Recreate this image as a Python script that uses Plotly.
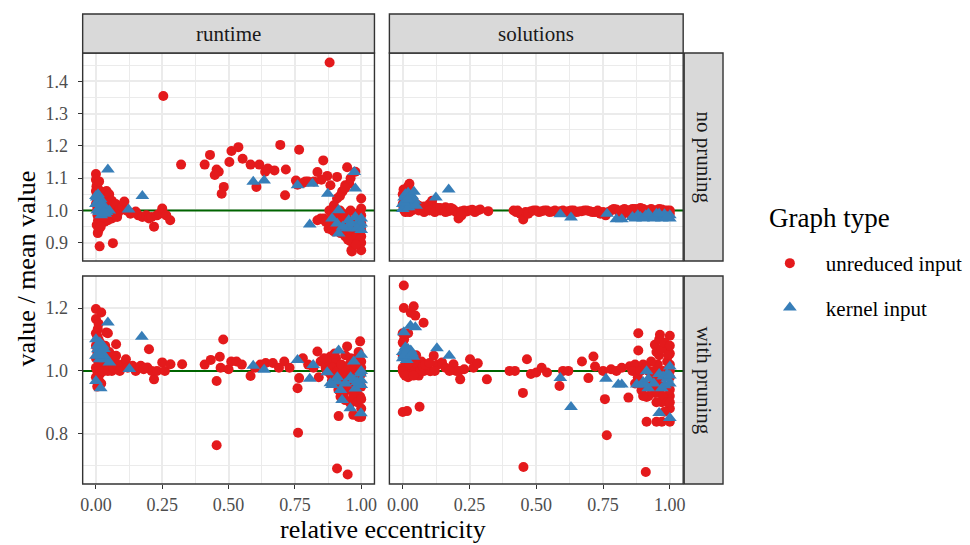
import plotly.graph_objects as go

# ---------------------------------------------------------------------------
# Data: (relative eccentricity, value / mean value) per facet and graph type
# ---------------------------------------------------------------------------
runtime_noprune_unreduced = [
    (0.0, 1.113), (0.0, 1.095), (0.002, 1.075), (0.0, 1.06), (0.003, 1.045), (0.005, 1.03),
    (0.0, 1.02), (0.004, 1.0), (0.006, 0.985), (0.008, 0.97), (0.01, 1.065), (0.012, 0.955),
    (0.015, 1.05), (0.018, 0.98), (0.02, 1.04), (0.022, 1.0), (0.025, 0.975), (0.026, 1.057),
    (0.028, 1.045), (0.03, 1.02), (0.033, 0.965), (0.035, 1.01), (0.039, 1.037), (0.04, 0.99),
    (0.045, 1.03), (0.05, 1.015), (0.055, 0.985), (0.06, 0.975), (0.065, 1.0), (0.07, 1.01),
    (0.075, 0.99), (0.08, 1.0), (0.014, 0.889), (0.064, 0.899), (0.007, 0.93), (0.003, 0.955),
    (0.01, 0.94), (0.02, 0.96), (0.045, 0.97), (0.05, 0.99),
    (0.005, 1.08), (0.008, 1.06), (0.012, 1.04), (0.016, 1.02), (0.02, 1.0), (0.024, 0.99),
    (0.03, 0.98), (0.035, 1.04), (0.04, 1.06), (0.045, 1.045), (0.05, 1.05), (0.055, 1.0),
    (0.06, 1.03), (0.065, 1.02), (0.07, 0.99), (0.075, 1.02), (0.08, 0.98), (0.085, 0.995),
    (0.012, 1.09), (0.018, 0.95),
    (0.09, 1.005), (0.1, 1.01), (0.107, 1.028), (0.115, 1.0), (0.13, 0.99), (0.15, 0.997),
    (0.16, 0.985), (0.175, 0.98), (0.19, 0.985), (0.2, 0.975), (0.21, 0.98), (0.219, 0.95),
    (0.23, 0.985), (0.24, 0.99), (0.25, 1.006), (0.265, 0.985), (0.28, 0.97), (0.254, 1.354),
    (0.321, 1.142),
    (0.41, 1.142), (0.43, 1.172), (0.455, 1.127), (0.463, 1.12), (0.448, 1.11), (0.482, 1.073),
    (0.474, 1.052), (0.503, 1.15), (0.511, 1.184), (0.537, 1.196), (0.553, 1.16), (0.583, 1.142),
    (0.605, 1.073), (0.616, 1.142), (0.638, 1.12), (0.648, 1.13), (0.673, 1.124), (0.695, 1.203),
    (0.716, 1.127), (0.713, 1.047), (0.754, 1.093), (0.766, 1.188), (0.78, 1.085), (0.8, 1.09),
    (0.822, 1.09), (0.835, 1.119), (0.857, 1.155), (0.872, 1.107), (0.881, 1.458), (0.884, 1.078),
    (0.909, 1.104), (0.928, 1.058), (0.94, 1.078), (0.947, 1.134), (0.978, 1.12), (0.909, 1.037),
    (0.897, 1.016), (1.0, 1.037), (1.0, 1.006),
    (0.835, 0.97), (0.847, 0.975), (0.86, 0.975), (0.866, 0.965), (0.877, 0.944), (0.884, 0.96),
    (0.89, 0.94), (0.897, 0.935), (0.903, 0.95), (0.91, 0.966), (0.922, 0.93), (0.934, 0.955),
    (0.94, 0.92), (0.947, 0.975), (0.959, 0.905), (0.963, 0.877), (0.965, 0.873), (0.97, 0.93),
    (0.985, 0.935), (0.99, 0.9), (1.0, 0.877), (1.0, 0.9), (1.0, 0.92), (1.0, 0.96), (0.99, 0.97),
    (0.98, 0.99), (0.96, 1.0), (0.92, 1.0), (0.93, 0.99), (0.955, 1.083), (0.96, 1.1),
    (0.93, 1.06), (0.92, 1.045), (0.94, 1.07), (0.85, 1.095), (0.79, 1.09), (0.76, 1.08),
    (0.88, 1.0), (0.89, 0.99), (0.9, 0.975), (0.905, 1.0), (0.915, 0.985), (0.925, 0.96),
    (0.93, 0.975), (0.945, 0.95), (0.95, 0.93), (0.955, 0.96), (0.96, 0.94), (0.97, 0.96),
    (0.975, 0.945), (0.98, 0.92), (0.985, 0.96), (0.99, 0.94), (0.995, 0.91), (1.0, 0.94),
    (1.0, 0.985), (0.98, 0.895), (0.95, 0.91), (0.91, 0.95),
]

runtime_noprune_kernel = [
    (0.0, 1.02), (0.003, 1.04), (0.005, 1.0), (0.008, 1.05), (0.01, 1.03), (0.012, 0.995),
    (0.015, 1.01), (0.018, 1.035), (0.02, 0.985), (0.025, 1.0), (0.03, 1.015), (0.035, 0.99),
    (0.04, 0.995), (0.045, 1.127), (0.05, 1.0), (0.123, 1.003), (0.175, 1.045), (0.593, 1.089),
    (0.634, 1.093), (0.76, 1.078), (0.816, 1.083), (0.806, 0.957), (0.874, 1.052), (0.89, 0.975),
    (0.909, 0.96), (0.915, 1.001), (0.915, 0.929), (0.947, 0.945), (0.953, 0.97), (0.959, 0.945),
    (0.974, 1.119), (0.978, 1.068), (0.978, 0.98), (0.99, 0.965), (1.0, 0.975), (1.0, 0.96),
    (0.995, 0.955), (0.0, 1.045), (0.005, 1.025), (0.01, 1.005), (0.02, 1.02), (0.03, 0.995),
    (0.96, 0.96), (0.985, 0.945), (1.0, 0.94), (0.93, 0.95),
]

solutions_noprune_unreduced = [
    (0.0, 1.05), (0.003, 1.065), (0.005, 1.03), (0.008, 1.045), (0.01, 1.02), (0.012, 1.06),
    (0.015, 1.005), (0.02, 1.075), (0.025, 1.083), (0.028, 1.06), (0.0, 1.02), (0.003, 1.01),
    (0.006, 1.0), (0.01, 0.995), (0.015, 1.04), (0.02, 1.005), (0.025, 0.995), (0.03, 1.015),
    (0.035, 1.0), (0.04, 1.03), (0.045, 1.01), (0.05, 1.02), (0.055, 1.005), (0.06, 1.015),
    (0.07, 1.01), (0.08, 1.012), (0.09, 1.005), (0.1, 1.02), (0.11, 1.03), (0.12, 1.01),
    (0.13, 1.008), (0.14, 1.0), (0.15, 1.005), (0.16, 1.01), (0.17, 0.998), (0.18, 1.0),
    (0.19, 1.003), (0.2, 0.995), (0.209, 0.975), (0.22, 0.998), (0.23, 1.0), (0.24, 0.997),
    (0.25, 1.0), (0.26, 1.002), (0.28, 1.0), (0.32, 0.998), (0.415, 1.0), (0.425, 0.995),
    (0.44, 0.99), (0.451, 0.972), (0.46, 0.995), (0.48, 0.998), (0.5, 1.0), (0.52, 0.998),
    (0.54, 1.0), (0.56, 0.997), (0.58, 0.995), (0.6, 1.0), (0.62, 0.998), (0.64, 1.0),
    (0.66, 0.997), (0.68, 1.0), (0.7, 0.998), (0.72, 0.995), (0.74, 0.99), (0.76, 0.985),
    (0.78, 1.0), (0.8, 1.003), (0.82, 1.0), (0.84, 0.995), (0.86, 1.005), (0.88, 1.0),
    (0.9, 1.005), (0.92, 1.0), (0.94, 0.995), (0.96, 1.005), (0.98, 1.0), (1.0, 1.0),
    (1.0, 0.99), (0.99, 0.985), (0.97, 0.99), (0.89, 0.99), (0.85, 0.99), (0.82, 0.985),
    (0.43, 1.0), (0.47, 0.99), (0.49, 1.0), (0.51, 0.995), (0.53, 1.0), (0.55, 0.995),
    (0.57, 1.0), (0.59, 0.998), (0.61, 0.995), (0.63, 1.0), (0.65, 0.995), (0.67, 0.998),
    (0.69, 1.0), (0.71, 0.995), (0.73, 1.0), (0.75, 0.995), (0.77, 0.995), (0.79, 1.005),
    (0.81, 0.995), (0.83, 1.005), (0.85, 1.0), (0.87, 1.005), (0.89, 1.008), (0.91, 0.998),
    (0.93, 1.005), (0.95, 1.0), (0.97, 1.003), (0.99, 1.0), (0.06, 1.0), (0.08, 0.995),
    (0.1, 1.0), (0.12, 0.995), (0.14, 1.008), (0.16, 0.995), (0.18, 1.008), (0.22, 0.985),
    (0.27, 0.995), (0.29, 1.003),
]

solutions_noprune_kernel = [
    (0.0, 1.02), (0.0, 1.005), (0.005, 1.04), (0.01, 1.05), (0.012, 1.01), (0.015, 1.03),
    (0.02, 1.055), (0.022, 1.01), (0.025, 1.04), (0.03, 1.02), (0.035, 1.045), (0.042, 1.058),
    (0.045, 1.03), (0.05, 1.015), (0.124, 1.04), (0.172, 1.065), (0.59, 0.988), (0.63, 0.978),
    (0.765, 0.99), (0.8, 0.973), (0.82, 0.973), (0.87, 0.975), (0.88, 0.985), (0.89, 0.98),
    (0.91, 0.985), (0.93, 0.978), (0.95, 0.99), (0.96, 0.98), (0.97, 0.975), (0.98, 0.988),
    (1.0, 0.985), (1.0, 0.975), (0.9, 0.975), (0.92, 0.99), (0.94, 0.975), (0.96, 0.99),
    (0.99, 0.98), (0.86, 0.98), (0.005, 1.025), (0.018, 1.035),
]

runtime_prune_unreduced = [
    (0.0, 1.197), (0.02, 1.186), (0.0, 1.165), (0.007, 1.133), (0.039, 1.122), (0.045, 1.12),
    (0.0, 1.12), (0.01, 1.1), (0.015, 1.09), (0.0, 1.08), (0.005, 1.06), (0.025, 1.07),
    (0.03, 1.05), (0.0, 1.04), (0.01, 1.03), (0.02, 1.02), (0.0, 1.01), (0.005, 1.0),
    (0.015, 0.99), (0.0, 0.98), (0.01, 0.97), (0.02, 0.96), (0.03, 1.0), (0.04, 1.01),
    (0.05, 1.03), (0.064, 1.027), (0.076, 1.048), (0.076, 1.085), (0.088, 1.016), (0.06, 1.0),
    (0.07, 1.005), (0.1, 1.02), (0.113, 1.037), (0.138, 1.016), (0.169, 1.016), (0.194, 1.011),
    (0.2, 1.069), (0.219, 0.973), (0.21, 1.0), (0.23, 1.0), (0.25, 1.027), (0.26, 1.0),
    (0.281, 1.021), (0.325, 1.021),
    (0.005, 1.11), (0.01, 1.15), (0.015, 1.06), (0.02, 1.04), (0.025, 1.0), (0.03, 1.03),
    (0.035, 1.08), (0.04, 1.04), (0.045, 1.0), (0.05, 1.06), (0.055, 1.02), (0.06, 1.045),
    (0.065, 1.01), (0.07, 1.035), (0.08, 1.02), (0.09, 1.0), (0.12, 1.01), (0.15, 1.0),
    (0.18, 1.005), (0.005, 0.95),
    (0.41, 1.02), (0.433, 1.035), (0.455, 0.968), (0.455, 0.763), (0.467, 1.045), (0.48, 1.1),
    (0.47, 1.01), (0.5, 1.005), (0.51, 1.03), (0.53, 1.03), (0.55, 1.02), (0.583, 0.984),
    (0.6, 1.01), (0.62, 1.02), (0.64, 1.025), (0.667, 1.025), (0.69, 1.01), (0.71, 1.03),
    (0.73, 1.01),
    (0.76, 0.945), (0.766, 0.977), (0.762, 0.803), (0.78, 1.04), (0.8, 1.02), (0.82, 1.01),
    (0.835, 1.062), (0.84, 0.98), (0.847, 1.03), (0.866, 1.01), (0.884, 1.046), (0.884, 0.99),
    (0.903, 1.025), (0.903, 0.96), (0.909, 0.689), (0.914, 1.014), (0.914, 0.94), (0.915, 0.856),
    (0.922, 1.003), (0.922, 0.918), (0.928, 0.98), (0.94, 0.993), (0.94, 0.907), (0.947, 1.078),
    (0.949, 0.67), (0.959, 0.982), (0.959, 0.897), (0.97, 1.0), (0.978, 0.961), (0.978, 0.929),
    (0.984, 0.939), (0.99, 0.853), (0.996, 1.094), (0.996, 0.918), (1.0, 0.853), (1.0, 0.95),
    (1.0, 1.03), (1.0, 0.88), (0.97, 0.86), (0.99, 1.06), (0.93, 0.95), (0.89, 0.97),
    (0.87, 1.02), (0.96, 1.04),
    (0.87, 1.0), (0.88, 1.03), (0.89, 1.01), (0.9, 0.99), (0.905, 1.04), (0.91, 1.0),
    (0.92, 0.96), (0.925, 1.02), (0.93, 0.99), (0.935, 0.93), (0.945, 1.0), (0.95, 0.96),
    (0.955, 1.02), (0.96, 0.94), (0.965, 0.99), (0.97, 0.92), (0.975, 1.01), (0.98, 0.98),
    (0.985, 0.9), (0.99, 0.97), (0.995, 1.0), (1.0, 0.99), (1.0, 0.91), (1.0, 1.01),
    (0.98, 1.04), (0.94, 1.05), (0.9, 1.055), (0.86, 1.04),
]

runtime_prune_kernel = [
    (0.0, 1.101), (0.007, 1.069), (0.026, 1.08), (0.039, 1.037), (0.014, 1.037), (0.0, 1.048),
    (0.051, 1.027), (0.0, 0.968), (0.018, 0.945), (0.045, 1.154), (0.02, 1.06), (0.03, 1.05),
    (0.01, 1.05), (0.126, 1.006), (0.173, 1.109), (0.593, 1.016), (0.634, 1.004), (0.76, 1.035),
    (0.806, 0.975), (0.819, 1.019), (0.872, 0.996), (0.884, 0.961), (0.89, 0.955), (0.909, 0.966),
    (0.915, 1.065), (0.922, 0.939), (0.928, 0.907), (0.959, 0.881), (0.972, 1.03), (0.972, 0.971),
    (0.978, 0.944), (0.996, 0.992), (0.999, 0.865), (1.0, 1.051), (1.0, 0.955), (1.0, 0.97),
    (0.005, 1.08), (0.015, 1.09), (0.03, 1.07), (0.94, 0.96), (0.96, 0.98), (0.985, 0.965),
    (1.0, 1.0), (0.91, 0.98),
]

solutions_prune_unreduced = [
    (0.004, 1.272), (0.004, 1.2), (0.041, 1.206), (0.03, 1.185), (0.047, 1.176), (0.078, 1.153),
    (0.0, 1.12), (0.02, 1.12), (0.0, 0.869), (0.016, 0.872), (0.063, 0.886), (0.0, 1.09),
    (0.01, 1.07), (0.0, 1.05), (0.015, 1.03), (0.0, 1.01), (0.005, 0.99), (0.02, 0.98),
    (0.03, 1.0), (0.04, 1.02), (0.05, 1.01), (0.06, 0.985), (0.07, 1.03), (0.08, 1.0),
    (0.09, 1.01), (0.103, 0.999), (0.116, 1.048), (0.13, 1.02), (0.147, 1.027), (0.16, 1.01),
    (0.19, 1.021), (0.2, 1.0), (0.215, 0.973), (0.23, 1.005), (0.252, 1.037), (0.265, 1.01),
    (0.281, 1.024), (0.315, 0.973),
    (0.005, 1.1), (0.01, 1.04), (0.015, 1.0), (0.02, 1.06), (0.025, 1.02), (0.03, 0.99),
    (0.035, 1.04), (0.045, 1.0), (0.05, 1.05), (0.055, 1.02), (0.065, 1.0), (0.075, 1.015),
    (0.085, 1.02), (0.0, 1.0), (0.01, 0.985), (0.04, 0.985), (0.1, 1.025), (0.12, 1.0),
    (0.175, 1.0), (0.21, 1.0),
    (0.4, 1.0), (0.42, 1.0), (0.45, 0.93), (0.452, 0.694), (0.465, 1.037), (0.48, 0.99),
    (0.5, 0.995), (0.52, 1.01), (0.54, 0.995), (0.587, 0.952), (0.6, 1.0), (0.62, 1.0),
    (0.671, 1.03), (0.695, 0.977), (0.714, 1.046), (0.72, 1.014),
    (0.75, 1.0), (0.757, 0.91), (0.764, 0.795), (0.78, 1.005), (0.8, 1.0), (0.82, 1.01),
    (0.845, 0.915), (0.85, 1.015), (0.87, 1.02), (0.882, 1.12), (0.882, 1.065), (0.894, 0.938),
    (0.9, 1.02), (0.91, 0.678), (0.913, 0.838), (0.913, 0.917), (0.92, 1.0), (0.932, 0.949),
    (0.94, 0.97), (0.944, 1.083), (0.95, 0.838), (0.955, 1.02), (0.96, 0.93), (0.963, 1.115),
    (0.97, 0.838), (0.97, 0.9), (0.981, 1.078), (0.985, 0.95), (0.99, 1.03), (1.0, 1.112),
    (1.0, 1.055), (1.0, 0.838), (1.0, 0.88), (1.0, 0.92), (1.0, 0.98), (0.975, 1.0),
    (0.96, 1.05), (0.93, 1.03),
    (0.86, 1.0), (0.88, 0.98), (0.89, 1.0), (0.9, 0.96), (0.91, 1.01), (0.92, 0.95),
    (0.93, 0.98), (0.94, 1.0), (0.945, 0.93), (0.95, 1.06), (0.955, 0.97), (0.96, 1.1),
    (0.965, 0.95), (0.97, 1.07), (0.975, 0.92), (0.98, 1.09), (0.985, 0.99), (0.99, 0.9),
    (0.995, 1.05), (1.0, 0.9), (1.0, 0.94), (1.0, 1.0), (1.0, 1.02), (1.0, 1.08),
    (0.98, 0.87), (0.95, 0.9), (0.92, 0.92), (0.9, 0.92), (0.87, 0.96),
]

solutions_prune_kernel = [
    (0.004, 1.123), (0.029, 1.144), (0.047, 1.139), (0.0, 1.06), (0.01, 1.075), (0.02, 1.05),
    (0.03, 1.065), (0.0, 1.04), (0.015, 1.035), (0.04, 1.045), (0.128, 1.072), (0.174, 1.048),
    (0.59, 0.977), (0.63, 0.885), (0.761, 0.975), (0.807, 0.957), (0.82, 0.957), (0.876, 0.957),
    (0.894, 0.957), (0.913, 0.999), (0.919, 0.945), (0.96, 0.866), (0.975, 0.982), (0.981, 0.954),
    (1.0, 0.85), (1.0, 1.014), (1.0, 0.96), (0.99, 0.975), (0.9, 0.965), (0.92, 0.975),
    (0.94, 0.96), (0.96, 0.99), (0.97, 0.945), (0.99, 0.99), (1.0, 0.985), (0.005, 1.05),
    (0.02, 1.07), (0.035, 1.055),
]

col_labels = ["runtime", "solutions"]
row_labels = ["no pruning", "with pruning"]
x_ticks = [0.0, 0.25, 0.5, 0.75, 1.0]
reference_level = 1.0

panels = {
    (0, 0): (runtime_noprune_unreduced, runtime_noprune_kernel),
    (0, 1): (solutions_noprune_unreduced, solutions_noprune_kernel),
    (1, 0): (runtime_prune_unreduced, runtime_prune_kernel),
    (1, 1): (solutions_prune_unreduced, solutions_prune_kernel),
}

# ---------------------------------------------------------------------------
# Layout geometry (pixels) and styling
# ---------------------------------------------------------------------------
W, H = 970, 545
COL_PX = [(81, 374), (389, 684)]
ROW_PX = [(53, 261), (276, 484)]
TOP_STRIP = (14, 53)
RIGHT_STRIP = (685, 724)

FONT = "Liberation Serif, DejaVu Serif, serif"
RED = "#E41A1C"
BLUE = "#377EB8"
GREEN = "#006400"
GRID = "#EBEBEB"
BORDER = "#333333"
STRIP_FILL = "#D9D9D9"


def fx(px):
    return px / W


def fy(py):
    return 1 - py / H


def row_range(r):
    vals = []
    for c in range(2):
        for pts in panels[(r, c)]:
            vals += [p[1] for p in pts]
    lo, hi = min(vals), max(vals)
    pad = 0.05 * (hi - lo)
    return [lo - pad, hi + pad]


fig = go.Figure()
shapes = []
annotations = []

for r in range(2):
    yr = row_range(r)
    for c in range(2):
        idx = r * 2 + c + 1
        sfx = "" if idx == 1 else str(idx)
        xa, ya = "x" + sfx, "y" + sfx

        x0, x1 = COL_PX[c]
        y0, y1 = ROW_PX[r]
        fig.layout["xaxis" + sfx] = dict(
            domain=[fx(x0), fx(x1)], anchor=ya, range=[-0.05, 1.05],
            tickvals=x_ticks, ticktext=[f"{v:.2f}" for v in x_ticks],
            showticklabels=(r == 1), ticks="outside" if r == 1 else "",
            ticklen=4, tickcolor=BORDER, tickwidth=1,
            showgrid=True, gridcolor=GRID, gridwidth=1.6, zeroline=False, showline=False,
            minor=dict(dtick=0.125, tick0=0, showgrid=True, gridcolor=GRID, gridwidth=0.8),
            tickfont=dict(family=FONT, size=18, color="#4D4D4D"),
        )
        if r == 0:
            ytick_vals = [0.9, 1.0, 1.1, 1.2, 1.3, 1.4]
            minor_dtick = 0.05
        else:
            ytick_vals = [0.8, 1.0, 1.2]
            minor_dtick = 0.1
        fig.layout["yaxis" + sfx] = dict(
            domain=[fy(y1), fy(y0)], anchor=xa, range=yr,
            tickvals=ytick_vals, ticktext=[f"{v:.1f}" for v in ytick_vals],
            showticklabels=(c == 0), ticks="outside" if c == 0 else "",
            ticklen=4, tickcolor=BORDER, tickwidth=1, ticklabelstandoff=6,
            showgrid=True, gridcolor=GRID, gridwidth=1.6, zeroline=False, showline=False,
            minor=dict(dtick=minor_dtick, tick0=0, showgrid=True, gridcolor=GRID, gridwidth=0.8),
            tickfont=dict(family=FONT, size=18, color="#4D4D4D"),
        )

        # horizontal reference line at 1
        fig.add_trace(go.Scatter(
            x=[-0.05, 1.05], y=[reference_level, reference_level], mode="lines",
            line=dict(color=GREEN, width=2), xaxis=xa, yaxis=ya,
            showlegend=False, hoverinfo="skip",
        ))

        unred, kern = panels[(r, c)]
        fig.add_trace(go.Scatter(
            x=[p[0] for p in unred], y=[p[1] for p in unred], mode="markers",
            marker=dict(color=RED, size=10, symbol="circle", line=dict(width=0)),
            name="unreduced input", legendgroup="unreduced",
            showlegend=(idx == 1), xaxis=xa, yaxis=ya,
        ))
        fig.add_trace(go.Scatter(
            x=[p[0] for p in kern], y=[p[1] for p in kern], mode="markers",
            marker=dict(color=BLUE, size=12, symbol="triangle-up", line=dict(width=0)),
            name="kernel input", legendgroup="kernel",
            showlegend=(idx == 1), xaxis=xa, yaxis=ya,
        ))

        # panel border
        shapes.append(dict(type="rect", xref="paper", yref="paper",
                           x0=fx(x0), x1=fx(x1), y0=fy(y1), y1=fy(y0),
                           line=dict(color=BORDER, width=1.4), fillcolor="rgba(0,0,0,0)",
                           layer="above"))

# column strips
for c, lab in enumerate(col_labels):
    x0, x1 = COL_PX[c]
    shapes.append(dict(type="rect", xref="paper", yref="paper",
                       x0=fx(x0), x1=fx(x1), y0=fy(TOP_STRIP[1]), y1=fy(TOP_STRIP[0]),
                       line=dict(color=BORDER, width=1.4), fillcolor=STRIP_FILL))
    annotations.append(dict(text=lab, xref="paper", yref="paper",
                            x=fx((x0 + x1) / 2), y=fy(sum(TOP_STRIP) / 2),
                            showarrow=False, xanchor="center", yanchor="middle",
                            font=dict(family=FONT, size=21, color="#1A1A1A")))

# row strips
for r, lab in enumerate(row_labels):
    y0, y1 = ROW_PX[r]
    shapes.append(dict(type="rect", xref="paper", yref="paper",
                       x0=fx(RIGHT_STRIP[0]), x1=fx(RIGHT_STRIP[1]), y0=fy(y1), y1=fy(y0),
                       line=dict(color=BORDER, width=1.4), fillcolor=STRIP_FILL))
    annotations.append(dict(text=lab, xref="paper", yref="paper",
                            x=fx(sum(RIGHT_STRIP) / 2), y=fy((y0 + y1) / 2),
                            showarrow=False, textangle=90, xanchor="center", yanchor="middle",
                            font=dict(family=FONT, size=21, color="#1A1A1A")))

# axis titles
annotations.append(dict(text="relative eccentricity", xref="paper", yref="paper",
                        x=fx((COL_PX[0][0] + COL_PX[1][1]) / 2), y=fy(529),
                        showarrow=False, xanchor="center", yanchor="middle",
                        font=dict(family=FONT, size=26, color="black")))
annotations.append(dict(text="value / mean value", xref="paper", yref="paper",
                        x=fx(25), y=fy((ROW_PX[0][0] + ROW_PX[1][1]) / 2),
                        showarrow=False, textangle=-90, xanchor="center", yanchor="middle",
                        font=dict(family=FONT, size=26, color="black")))

# legend title
annotations.append(dict(text="Graph type", xref="paper", yref="paper",
                        x=fx(768), y=fy(218), showarrow=False,
                        xanchor="left", yanchor="middle",
                        font=dict(family=FONT, size=27, color="black")))

fig.update_layout(
    width=W, height=H,
    margin=dict(l=0, r=0, t=0, b=0),
    paper_bgcolor="white", plot_bgcolor="white",
    shapes=shapes, annotations=annotations,
    showlegend=True,
    legend=dict(
        x=fx(767), y=fy(243), xanchor="left", yanchor="top",
        font=dict(family=FONT, size=21, color="black"),
        tracegroupgap=14, bgcolor="rgba(0,0,0,0)",
        itemwidth=62, indentation=-12,
    ),
    font=dict(family=FONT),
)

fig.write_html("out.html")
